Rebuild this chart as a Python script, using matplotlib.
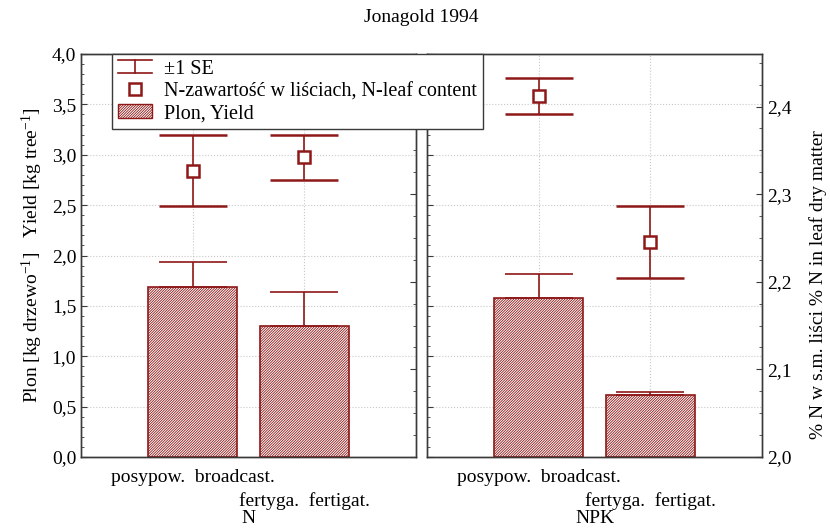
import numpy as np
import matplotlib
matplotlib.use('Agg')
import matplotlib.pyplot as plt
from matplotlib.lines import Line2D
from matplotlib.patches import Patch
from matplotlib.legend_handler import HandlerBase
from matplotlib.ticker import MultipleLocator, FuncFormatter

plt.rcParams['font.family'] = ['Liberation Serif', 'DejaVu Serif']
plt.rcParams['font.size'] = 14
plt.rcParams['mathtext.fontset'] = 'custom'
plt.rcParams['mathtext.rm'] = 'Liberation Serif'
plt.rcParams['mathtext.default'] = 'rm'
plt.rcParams['hatch.linewidth'] = 0.6

# dane
groups = ['N', 'NPK']
methods = ['posypow.  broadcast.', 'fertyga.  fertigat.']
yield_mean = [[1.69, 1.30], [1.58, 0.62]]
yield_se = [[0.25, 0.34], [0.235, 0.025]]
leafn_mean = [[2.327, 2.342], [2.412, 2.245]]
leafn_se = [[0.040, 0.026], [0.021, 0.041]]

red = '#8e1818'
spine_col = '#3a3a3a'
hatch = '/' * 13
comma = FuncFormatter(lambda v, p: f'{v:.1f}'.replace('.', ','))


class SEHandler(HandlerBase):
    def create_artists(self, legend, orig_handle, xdescent, ydescent,
                       width, height, fontsize, trans):
        x0, x1 = -xdescent, -xdescent + width
        xm = (x0 + x1) / 2
        y0, y1 = -ydescent + 0.05 * height, -ydescent + 1.0 * height
        lines = [Line2D([x0, x1], [y1, y1]), Line2D([x0, x1], [y0, y0]),
                 Line2D([xm, xm], [y0, y1])]
        for ln in lines:
            ln.set_color(orig_handle.get_color())
            ln.set_linewidth(1.2)
            ln.set_transform(trans)
        return lines


fig = plt.figure(figsize=(8.3, 5.3), dpi=100)
x = np.arange(1, len(methods) + 1)
panels = [81, 427]

for i, g in enumerate(groups):
    ax = fig.add_axes([panels[i] / 830, 1 - 457 / 530, 335 / 830, 403 / 530])
    ax.set_xlim(0, 3)
    ax.set_ylim(0, 4)
    ax.set_axisbelow(True)
    ax.bar(x, yield_mean[i], width=0.8, facecolor='white', edgecolor=red,
           linewidth=1.2, hatch=hatch, zorder=2)
    ax.errorbar(x, yield_mean[i], yerr=[np.zeros(len(x)), yield_se[i]],
                fmt='none', ecolor=red, elinewidth=1.2, capsize=24.5,
                capthick=1.2, zorder=3)
    ax.yaxis.set_major_locator(MultipleLocator(0.5))
    ax.yaxis.set_minor_locator(MultipleLocator(0.1))
    ax.yaxis.set_major_formatter(comma)
    ax.set_xticks(x)
    ax.set_xticklabels(methods)
    ax.grid(True, which='major', color='#c8c8c8', linestyle=':', linewidth=0.8)
    ax.tick_params(axis='both', which='major', direction='in', length=4,
                   color=spine_col)
    ax.tick_params(axis='x', pad=9)
    ax.xaxis.get_major_ticks()[1].set_pad(25)
    ax.tick_params(axis='y', which='minor', direction='in', length=2.5,
                   color=spine_col)
    ax.set_xlabel(g, labelpad=0)
    if i == 1:
        ax.tick_params(axis='y', labelleft=False)
    else:
        ax.set_ylabel('Plon [kg drzewo$^{-1}$]   Yield [kg tree$^{-1}$]',
                      labelpad=5)

    tw = ax.twinx()
    tw.set_ylim(2.0, 2.46)
    tw.errorbar(x, leafn_mean[i], yerr=leafn_se[i], fmt='s', color=red,
                mfc='white', mec=red, mew=1.8, ms=9, elinewidth=1.2,
                capsize=24.5, capthick=1.2, zorder=4)
    tw.yaxis.set_major_locator(MultipleLocator(0.1))
    tw.yaxis.set_minor_locator(MultipleLocator(0.025))
    tw.yaxis.set_major_formatter(comma)
    tw.tick_params(axis='y', which='major', direction='in', length=4,
                   color=spine_col)
    tw.tick_params(axis='y', which='minor', direction='in', length=2.5,
                   color=spine_col)
    if i == 0:
        tw.tick_params(axis='y', labelright=False)
    for a in (ax, tw):
        for s in a.spines.values():
            s.set_color(spine_col)
            s.set_linewidth(1.0)

fig.text(818 / 830, 1 - 285 / 530, '% N w s.m. liści % N in leaf dry matter',
         rotation=90, ha='center', va='center')
fig.text(421.5 / 830, 1 - 18 / 530, 'Jonagold 1994', ha='center', va='center')

se_proxy = Line2D([], [], color=red)
sq_proxy = Line2D([], [], linestyle='none', marker='s', ms=9, mfc='white',
                  mec=red, mew=1.8)
bar_proxy = Patch(facecolor='white', edgecolor=red, hatch=hatch, linewidth=1)
leg = fig.legend([se_proxy, sq_proxy, bar_proxy],
                 ['±1 SE', 'N-zawartość w liściach, N-leaf content', 'Plon, Yield'],
                 handler_map={se_proxy: SEHandler()},
                 loc='upper left', bbox_to_anchor=(112 / 830, 1 - 54 / 530),
                 bbox_transform=fig.transFigure, fancybox=False, framealpha=1,
                 edgecolor=spine_col, borderpad=0.3, handlelength=1.7,
                 handletextpad=0.6, labelspacing=0.15, borderaxespad=0,
                 fontsize=14.5)
leg.get_frame().set_linewidth(1.0)

fig.savefig('out.png', dpi=100)
